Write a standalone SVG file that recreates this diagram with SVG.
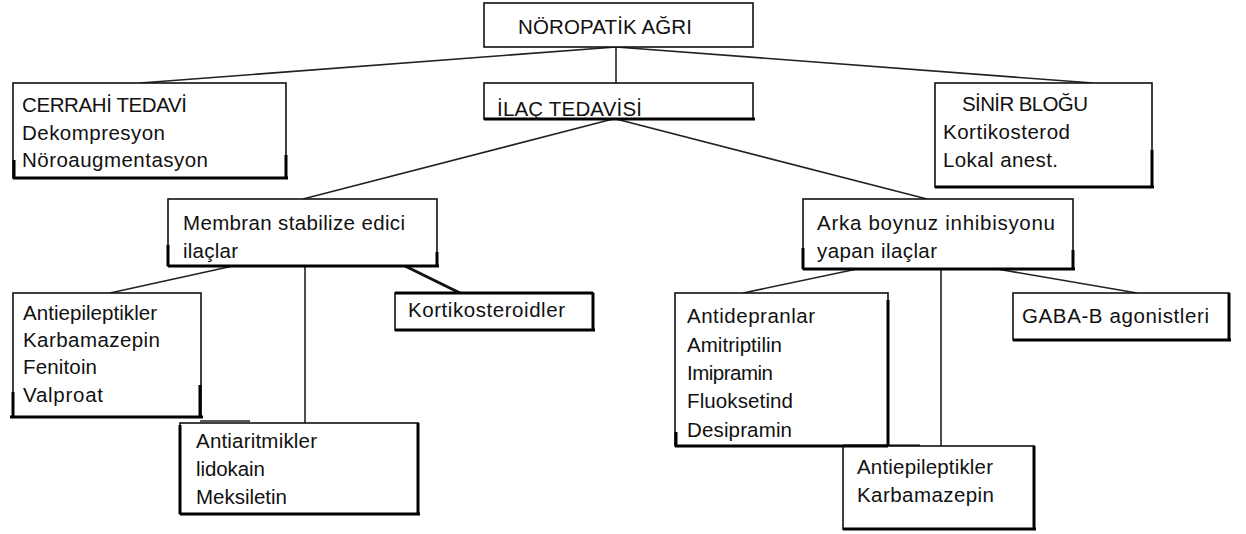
<svg xmlns="http://www.w3.org/2000/svg" width="1246" height="534" viewBox="0 0 1246 534">
<style>
.box{fill:#fff;stroke:#111;stroke-width:1.6}
.bt{stroke:#000;stroke-width:3;fill:none}
.con{stroke:#222;stroke-width:1.6;fill:none}
.con2{stroke:#111;stroke-width:3;fill:none}
text{font-family:"Liberation Sans",Arial,sans-serif;font-size:20.5px;fill:#111}
</style>
<rect width="1246" height="534" fill="#fff"/>
<g id="connectors">
<path class="con" d="M616,47 V83"/>
<path class="con" d="M616,47 L140,83"/>
<path class="con" d="M616,47 L1093,83"/>
<path class="con" d="M613,119 L303,199"/>
<path class="con" d="M616,119 L927,199"/>
<path class="con" d="M233,266 L110,293"/>
<path class="con" d="M305,266 V423"/>
<path class="con2" d="M405,266 L460,293"/>
<path class="con" d="M857,269 L743,293"/>
<path class="con" d="M941,269 V446"/>
<path class="con" d="M997,269 L1137,293"/>
<path class="con" d="M200,421 H250" stroke="#555"/>
</g>
<g id="noropatik">
<rect class="box" x="484" y="3" width="269" height="44"/>
<text x="518" y="34" textLength="174" lengthAdjust="spacing">NÖROPATİK AĞRI</text>
</g>
<g id="ilac">
<rect class="box" x="484" y="83" width="269" height="36"/>
<path class="bt" d="M484,119 H755"/>
<text x="497" y="116" textLength="145" lengthAdjust="spacing">İLAÇ TEDAVİSİ</text>
</g>
<g id="cerrahi">
<rect class="box" x="13" y="83" width="273" height="95"/>
<path class="bt" d="M13,178 H288 M286,155 V178 M14,160 V178"/>
<text x="22" y="112" textLength="165" lengthAdjust="spacing">CERRAHİ TEDAVİ</text>
<text x="22" y="140" textLength="143" lengthAdjust="spacing">Dekompresyon</text>
<text x="22" y="167" textLength="186" lengthAdjust="spacing">Nöroaugmentasyon</text>
</g>
<g id="sinir">
<rect class="box" x="935" y="83" width="217" height="104"/>
<path class="bt" d="M935,187 H1154 M1152,150 V187"/>
<text x="962" y="111" textLength="126" lengthAdjust="spacing">SİNİR BLOĞU</text>
<text x="943" y="139" textLength="127" lengthAdjust="spacing">Kortikosterod</text>
<text x="943" y="167" textLength="115" lengthAdjust="spacing">Lokal anest.</text>
</g>
<g id="membran">
<rect class="box" x="168" y="199" width="269" height="67"/>
<path class="bt" d="M168,266 H439 M168,245 V266 M437,252 V266"/>
<text x="183" y="230" textLength="222" lengthAdjust="spacing">Membran stabilize edici</text>
<text x="183" y="258" textLength="55" lengthAdjust="spacing">ilaçlar</text>
</g>
<g id="arka">
<rect class="box" x="803" y="199" width="270" height="70"/>
<path class="bt" d="M803,269 H1075 M803,248 V269 M1073,250 V269"/>
<text x="817" y="230" textLength="238" lengthAdjust="spacing">Arka boynuz inhibisyonu</text>
<text x="817" y="258" textLength="120" lengthAdjust="spacing">yapan ilaçlar</text>
</g>
<g id="antiepileptikler1">
<rect class="box" x="13" y="293" width="188" height="124"/>
<path class="bt" d="M10,417 H203 M200,385 V417 M13,392 V417"/>
<text x="23" y="320" textLength="134" lengthAdjust="spacing">Antiepileptikler</text>
<text x="23" y="347" textLength="137" lengthAdjust="spacing">Karbamazepin</text>
<text x="23" y="374" textLength="74" lengthAdjust="spacing">Fenitoin</text>
<text x="23" y="402" textLength="80" lengthAdjust="spacing">Valproat</text>
</g>
<g id="antiaritmikler">
<rect class="box" x="180" y="423" width="238" height="91"/>
<path class="bt" d="M180,514 H420 M418,423 V514 M180,425 V514"/>
<text x="196" y="448" textLength="121" lengthAdjust="spacing">Antiaritmikler</text>
<text x="196" y="476" textLength="69" lengthAdjust="spacing">lidokain</text>
<text x="196" y="504" textLength="91" lengthAdjust="spacing">Meksiletin</text>
</g>
<g id="kortikosteroidler">
<rect class="box" x="395" y="293" width="198" height="37"/>
<path class="bt" d="M395,330 H595 M593,293 V330 M395,293 H593"/>
<text x="408" y="317" textLength="157" lengthAdjust="spacing">Kortikosteroidler</text>
</g>
<g id="antidepranlar">
<rect class="box" x="675" y="293" width="213" height="153"/>
<path class="bt" d="M675,446 H920 M888,300 V446 M676,432 V446"/>
<text x="687" y="323" textLength="128" lengthAdjust="spacing">Antidepranlar</text>
<text x="687" y="352" textLength="95" lengthAdjust="spacing">Amitriptilin</text>
<text x="687" y="380" textLength="86" lengthAdjust="spacing">Imipramin</text>
<text x="687" y="408" textLength="106" lengthAdjust="spacing">Fluoksetind</text>
<text x="687" y="437" textLength="105" lengthAdjust="spacing">Desipramin</text>
</g>
<g id="antiepileptikler2">
<rect class="box" x="843" y="446" width="191" height="83"/>
<path class="bt" d="M843,529 H1036 M1034,446 V529 M843,446 H888"/>
<text x="857" y="474" textLength="136" lengthAdjust="spacing">Antiepileptikler</text>
<text x="857" y="502" textLength="137" lengthAdjust="spacing">Karbamazepin</text>
</g>
<g id="gaba">
<rect class="box" x="1013" y="293" width="216" height="47"/>
<path class="bt" d="M1013,340 H1231 M1229,293 V340"/>
<text x="1022" y="323" textLength="187" lengthAdjust="spacing">GABA-B agonistleri</text>
</g>
</svg>
